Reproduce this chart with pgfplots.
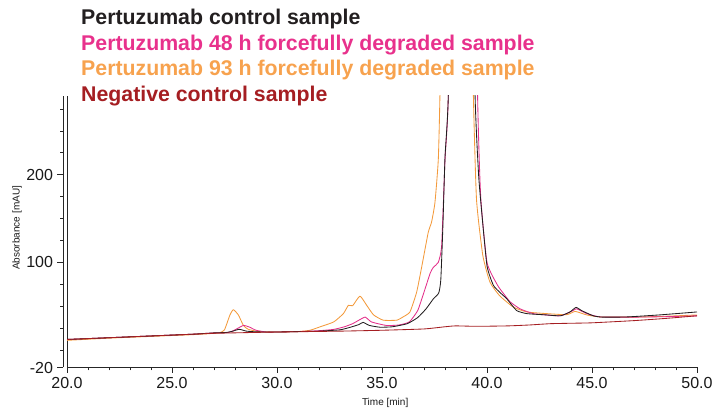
\documentclass[border=0pt]{standalone}
\usepackage{pgfplots}
\pgfplotsset{compat=1.18}
\usepackage{fontspec}
\setmainfont{Liberation Sans}
\definecolor{cblack}{HTML}{231F20}
\definecolor{cpink}{HTML}{E3308A}
\definecolor{corange}{HTML}{F39A3C}
\definecolor{tpink}{HTML}{E8318C}
\definecolor{torange}{HTML}{F7A24E}
\definecolor{cred}{HTML}{A51E22}
\begin{document}
\begin{tikzpicture}
\path[use as bounding box] (0,0) rectangle (715pt,412pt);
\begin{axis}[
  at={(67pt,44.5pt)}, anchor=south west,
  scale only axis, width=630pt, height=271.6pt,
  xmin=20, xmax=50, ymin=-20, ymax=290,
  axis x line*=bottom, axis y line*=left,
  axis y line shift=4pt,
  axis line style={line width=0.8pt, color=black!85},
  xtick={20,25,30,35,40,45,50},
  xticklabels={20.0,25.0,30.0,35.0,40.0,45.0,50.0},
  minor x tick num=4,
  ytick={-20,100,200}, yticklabels={-20,100,200},
  minor ytick={0,25,50,75,125,150,175,225,250,275},
  tick align=outside,
  major tick length=5.5pt, minor tick length=3pt,
  tick style={line width=0.7pt, color=black!85},
  tick label style={font=\fontsize{16}{16}\selectfont, color=black!90},
  xticklabel style={yshift=-1pt},
  yticklabel style={xshift=-1pt},
  xlabel={Time [min]}, ylabel={Absorbance [mAU]},
  label style={font=\fontsize{10}{10}\selectfont, color=black!90},
  xlabel style={at={(axis description cs:0.505,-0.131)}, anchor=center},
  ylabel style={at={(axis description cs:-0.0794,0.514)}, anchor=center},
  every axis plot/.append style={line width=0.85pt, line join=round, smooth, tension=0.3},
  clip=true,
]
\draw[line width=0.8pt, color=black!85] (rel axis cs:0,0) -- (rel axis cs:0,1);
% orange: 93 h
\addplot[corange] coordinates {
(20,11) (22,13.5) (24,15.5) (25,16.5) (26,17.5) (27,19) (27.3,20) (27.5,23) (27.76,40) (27.92,46) (28.16,40) (28.4,28) (28.63,23.6) (29.03,21.4) (29.5,20.7) (30,20.5) (31,21) (31.57,22.5) (32.05,26.4) (32.7,32) (33.16,41.5) (33.4,51) (33.6,50.5) (33.95,61.5) (34.27,51) (34.6,40) (35.06,34) (35.7,34) (36.0,37.7) (36.33,43.4) (36.65,66) (36.9,96) (37.2,134) (37.36,146) (37.52,168) (37.68,217) (37.76,292) (38.0,600) (38.6,1100) (39.1,600) (39.35,292) (39.5,172) (39.8,108) (40.14,77.5) (40.6,62) (41.25,49) (41.9,43.4) (42.84,41.5) (43.8,40.3) (44.2,44) (44.75,40) (45.4,37.7) (47,37.5) (48.5,38.5) (50,40)
};
% pink: 48 h
\addplot[cpink] coordinates {
(20,12) (22,14) (24,16) (25,17) (26,18) (27,19.5) (27.7,20) (28.0,23) (28.4,28) (28.7,26) (29.0,22.5) (29.5,20.5) (30,20.5) (31,21) (32,22) (32.7,23.5) (33.2,26.4) (33.6,30) (33.9,34) (34.2,37.5) (34.5,32) (35.2,28) (35.8,28.5) (36.3,32) (36.7,45) (37.0,66) (37.3,88) (37.45,94.5) (37.68,100) (37.84,119) (38.0,217) (38.16,292) (38.5,700) (38.9,1000) (39.3,700) (39.55,292) (39.7,175) (40.0,100) (40.5,74) (40.8,64) (41.1,55) (41.57,47) (42.2,41.5) (42.8,40) (43.5,39) (44.1,45) (44.27,47) (44.75,41.5) (45.4,37.7) (47,37.5) (48.5,38) (50,39)
};
% black: control
\addplot[cblack] coordinates {
(20,12) (21,13) (22,14) (23,15) (24,16) (25,17) (26,18) (27,19.5) (27.6,20) (27.9,21.5) (28.2,23.6) (28.55,21.5) (29.0,20.7) (29.5,20.5) (30,20.5) (31,21) (32,21.5) (33,23) (33.5,26) (33.9,29) (34.1,31.5) (34.4,28) (34.9,26) (35.5,26.5) (36.2,30) (36.7,37) (37.1,47) (37.45,58.5) (37.7,65) (37.8,80) (37.9,142) (38.0,220) (38.16,292) (38.4,600) (38.8,1000) (39.2,600) (39.43,292) (39.6,200) (39.75,157) (40.0,96) (40.3,74) (40.6,66) (40.94,58.5) (41.41,45) (41.9,41.5) (42.84,40) (43.5,39) (43.95,43.4) (44.24,48.6) (44.5,45) (45.06,39) (45.5,37.5) (46.65,37.7) (48.2,40) (50,43.4)
};
% dark red: negative control
\addplot[cred] coordinates {
(20,12) (22,14) (25,17) (27,19) (30,20.5) (33,21.5) (35,22.5) (37,24) (38,26.5) (38.5,27.5) (39.5,27) (41,27.5) (42,28.5) (43,30) (44,30.5) (45,31) (47,33.5) (48.5,36) (50,39)
};
\end{axis}
\node[anchor=base west, font=\fontsize{21.3}{21.3}\selectfont\bfseries, text=cblack, inner sep=0pt] at (81pt,387pt) {Pertuzumab control sample};
\node[anchor=base west, font=\fontsize{21.3}{21.3}\selectfont\bfseries, text=tpink, inner sep=0pt] at (81pt,361.3pt) {Pertuzumab 48 h forcefully degraded sample};
\node[anchor=base west, font=\fontsize{21.3}{21.3}\selectfont\bfseries, text=torange, inner sep=0pt] at (81pt,336pt) {Pertuzumab 93 h forcefully degraded sample};
\node[anchor=base west, font=\fontsize{21.3}{21.3}\selectfont\bfseries, text=cred, inner sep=0pt] at (81pt,310.3pt) {Negative control sample};
\end{tikzpicture}
\end{document}
